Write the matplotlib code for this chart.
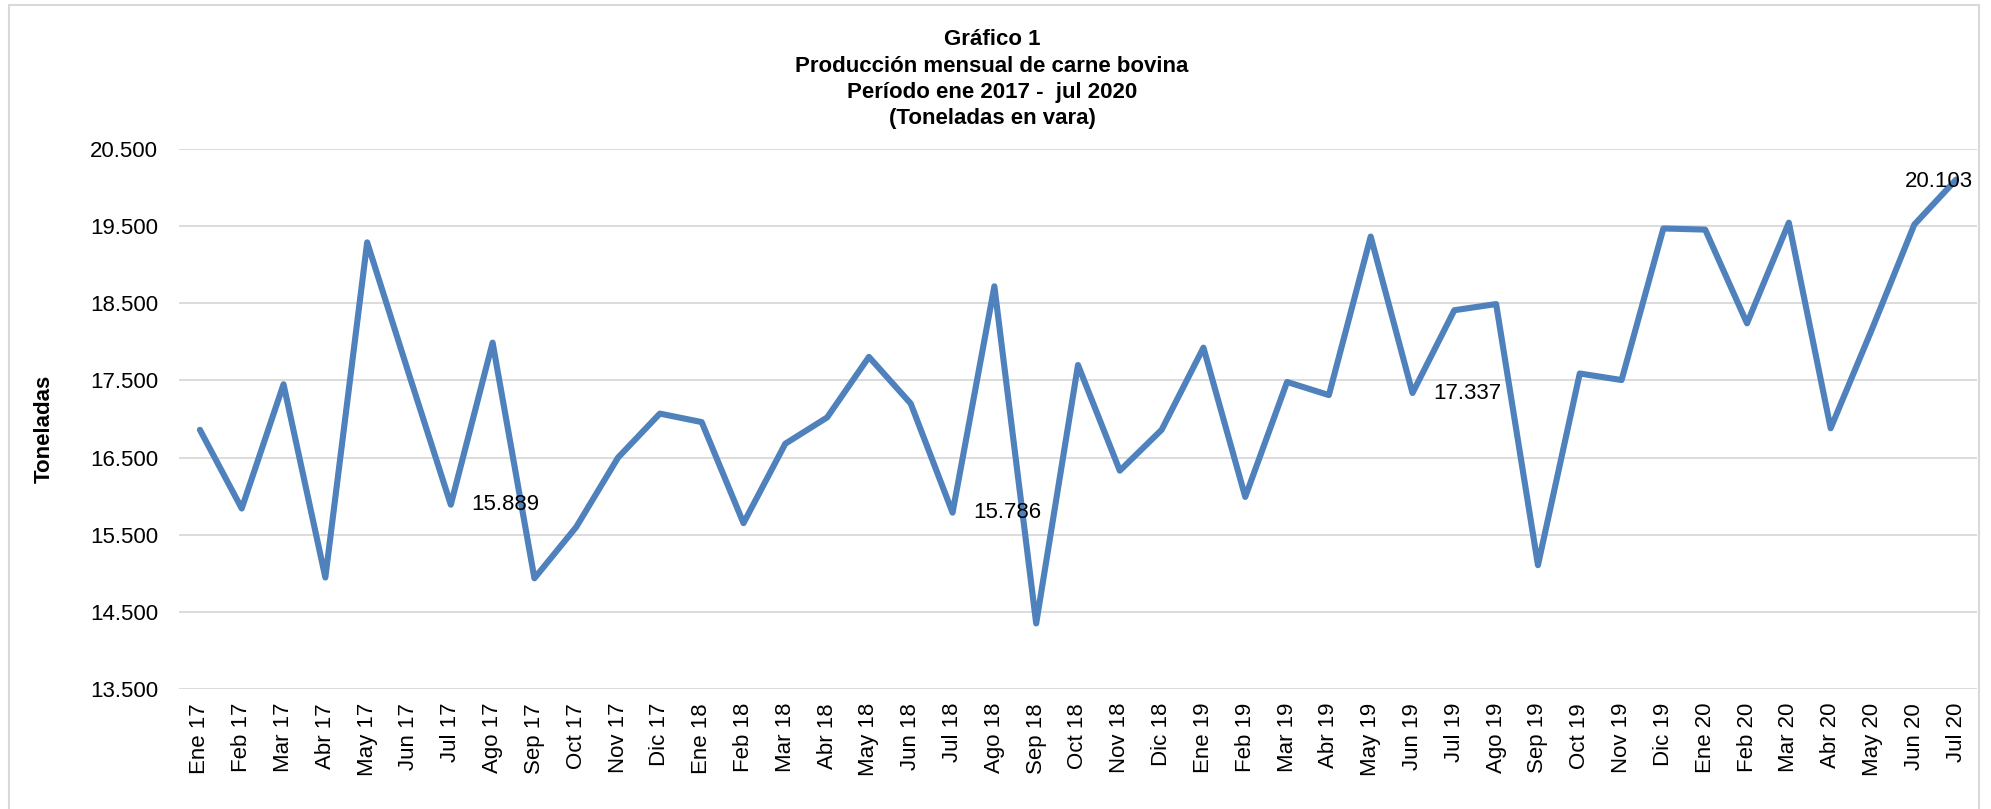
import matplotlib
matplotlib.use("Agg")
import matplotlib.pyplot as plt
from matplotlib.patches import Rectangle

plt.rcParams['font.family'] = ['Liberation Sans', 'DejaVu Sans']

months = ["Ene 17", "Feb 17", "Mar 17", "Abr 17", "May 17", "Jun 17", "Jul 17", "Ago 17",
          "Sep 17", "Oct 17", "Nov 17", "Dic 17", "Ene 18", "Feb 18", "Mar 18", "Abr 18",
          "May 18", "Jun 18", "Jul 18", "Ago 18", "Sep 18", "Oct 18", "Nov 18", "Dic 18",
          "Ene 19", "Feb 19", "Mar 19", "Abr 19", "May 19", "Jun 19", "Jul 19", "Ago 19",
          "Sep 19", "Oct 19", "Nov 19", "Dic 19", "Ene 20", "Feb 20", "Mar 20", "Abr 20",
          "May 20", "Jun 20", "Jul 20"]

toneladas = [16860, 15840, 17450, 14945, 19290, 17580, 15889, 17990,
             14935, 15600, 16500, 17070, 16960, 15650, 16680, 17020,
             17805, 17200, 15786, 18720, 14350, 17700, 16330, 16860,
             17925, 15990, 17480, 17310, 19365, 17337, 18410, 18490,
             15105, 17590, 17505, 19470, 19455, 18240, 19545, 16880,
             18180, 19520, 20103]

# indices of points that carry a data label
labeled_right = [6, 18, 29]
labeled_end = [42]

yticks = [13500, 14500, 15500, 16500, 17500, 18500, 19500, 20500]

title_lines = ["Gráfico 1", "Producción mensual de carne bovina",
               "Período ene 2017 -  jul 2020", "(Toneladas en vara)"]


def fmt(v):
    return f"{v:,.0f}".replace(",", ".")


W, H = 1991, 809
fig = plt.figure(figsize=(W / 100, H / 100), dpi=100)
fig.patch.set_facecolor("white")

# outer chart-area border
fig.patches.append(Rectangle((9 / W, -0.02), (1979 - 9) / W, 1.02 - 5 / H,
                             transform=fig.transFigure, fill=False,
                             edgecolor="#d9d9d9", linewidth=1.5))

ax = fig.add_axes([179 / W, 120 / H, (1977 - 179) / W, 540 / H])
x = list(range(len(months)))
ax.plot(x, toneladas, color="#4F81BD", linewidth=4.4,
        solid_joinstyle="round", solid_capstyle="round", zorder=3)

ax.set_xlim(-0.5, len(months) - 0.5)
ax.set_ylim(yticks[0], yticks[-1])
ax.set_yticks(yticks)
ax.set_yticklabels([fmt(v) for v in yticks], fontsize=16)
ax.set_xticks(x)
ax.set_xticklabels(months, rotation=90, fontsize=16)
ax.tick_params(axis="x", length=0, pad=10)
ax.tick_params(axis="y", length=0, pad=15)
ax.grid(axis="y", color="#d9d9d9", linewidth=1.3)
ax.set_axisbelow(True)
for s in ax.spines.values():
    s.set_visible(False)

for i in labeled_right:
    ax.annotate(fmt(toneladas[i]), (x[i], toneladas[i]), xytext=(15, 0),
                textcoords="offset points", ha="left", va="center", fontsize=16, zorder=4)
for i in labeled_end:
    ax.annotate(fmt(toneladas[i]), (x[i], toneladas[i]), xytext=(12.5, -1.5),
                textcoords="offset points", ha="right", va="center", fontsize=16, zorder=4)

ax.set_ylabel("Toneladas", fontsize=16, fontweight="bold")
ax.yaxis.set_label_coords((55 - 179) / (1977 - 179), (689 - 429) / 540)

baselines = [45, 72, 98, 124]
for line, yb in zip(title_lines, baselines):
    fig.text(992 / W, 1 - yb / H, line, ha="center", va="baseline",
             fontsize=16, fontweight="bold")

fig.savefig("out.png", dpi=100, facecolor="white")
